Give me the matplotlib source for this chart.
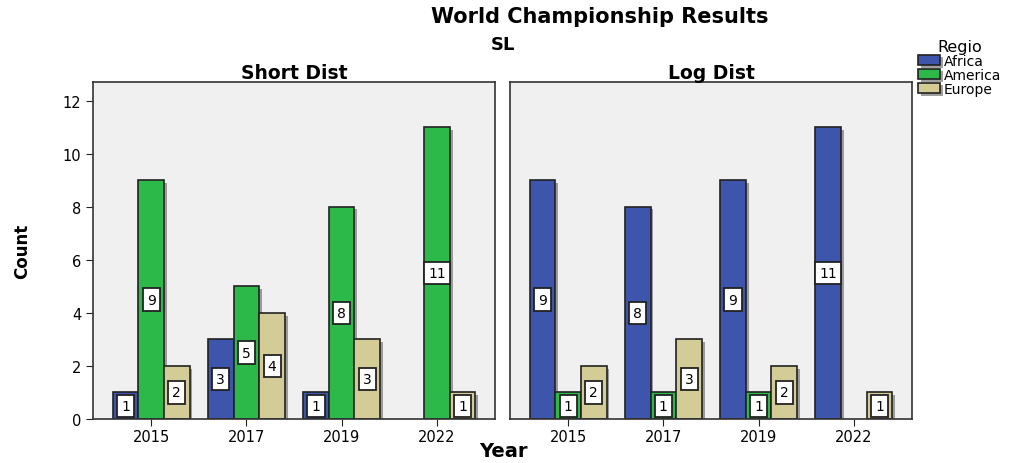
import matplotlib
matplotlib.use("Agg")
import matplotlib.pyplot as plt
import matplotlib.patheffects as pe
import numpy as np

years = ["2015", "2017", "2019", "2022"]
regions = ["Africa", "America", "Europe"]
panels = ["Short Dist", "Log Dist"]
short_africa = [1, 3, 1, 0]
short_america = [9, 5, 8, 11]
short_europe = [2, 4, 3, 1]
long_africa = [9, 8, 9, 11]
long_america = [1, 1, 1, 0]
long_europe = [2, 3, 2, 1]
colors = ["#3d55ab", "#2db84a", "#d3cc96"]

data = {
    "Short Dist": [short_africa, short_america, short_europe],
    "Log Dist": [long_africa, long_america, long_europe],
}

plt.rcParams['font.family'] = ['DejaVu Sans']
fig = plt.figure(figsize=(10.23, 4.64), dpi=100)
W, H = 1023, 464
axL = fig.add_axes([93 / W, 1 - 420 / H, 402 / W, 337 / H])
axR = fig.add_axes([510 / W, 1 - 420 / H, 402 / W, 337 / H])

x = np.arange(len(years))
bw = 0.27
offsets = [-bw, 0, bw]
shadow = [pe.SimplePatchShadow(offset=(2, -2), shadow_rgbFace='#777777', alpha=0.7), pe.Normal()]

for ax, name in zip([axL, axR], panels):
    ax.set_facecolor("#f0f0f0")
    series = data[name]
    for i, (vals, c) in enumerate(zip(series, colors)):
        bars = ax.bar(x + offsets[i], vals, width=bw, color=c, edgecolor="#222222",
                      linewidth=1.2, label=regions[i], zorder=2)
        for b, v in zip(bars, vals):
            b.set_path_effects(shadow)
            if v == 0:
                b.set_visible(False)
        for xi, v in zip(x + offsets[i], vals):
            if v > 0:
                ax.text(xi, v / 2, str(v), ha="center", va="center", fontsize=10,
                        zorder=4,
                        bbox=dict(boxstyle="square,pad=0.3", fc="white", ec="#222222", lw=1.3))
    ax.set_xlim(-0.61, 3.61)
    ax.set_ylim(0, 12.7)
    ax.set_xticks(x)
    ax.set_xticklabels(years, fontsize=10.5)
    ax.tick_params(axis="x", direction="out", length=5, color="#222222", pad=2)
    for s in ax.spines.values():
        s.set_color("#333333")
        s.set_linewidth(1.2)
    ax.set_title(name, fontsize=13.5, fontweight="bold", pad=3)

axL.set_yticks(range(0, 13, 2))
axL.tick_params(axis="y", direction="out", length=5, labelsize=10.5, color="#222222")
axR.set_yticks([])

fig.text(600 / W, 1 - 17 / H, "World Championship Results", ha="center", va="center",
         fontsize=15, fontweight="bold")
fig.text(503 / W, 1 - 45 / H, "SL", ha="center", va="center", fontsize=13, fontweight="bold")
fig.text(503 / W, 1 - 452 / H, "Year", ha="center", va="center", fontsize=14, fontweight="bold")
fig.text(22 / W, 1 - 251 / H, "Count", ha="center", va="center", fontsize=12,
         fontweight="bold", rotation=90, family=["Liberation Sans Narrow", "DejaVu Sans"])

handles, labels = axL.get_legend_handles_labels()
leg = fig.legend(handles, labels, title="Regio", loc="upper left",
                 bbox_to_anchor=(908 / W, 1 - 30 / H), frameon=False, fontsize=10,
                 title_fontsize=11.5, handlelength=1.6, handleheight=0.8,
                 labelspacing=0.0, handletextpad=0.3, borderpad=0.2)

fig.savefig("out.png", dpi=100)
